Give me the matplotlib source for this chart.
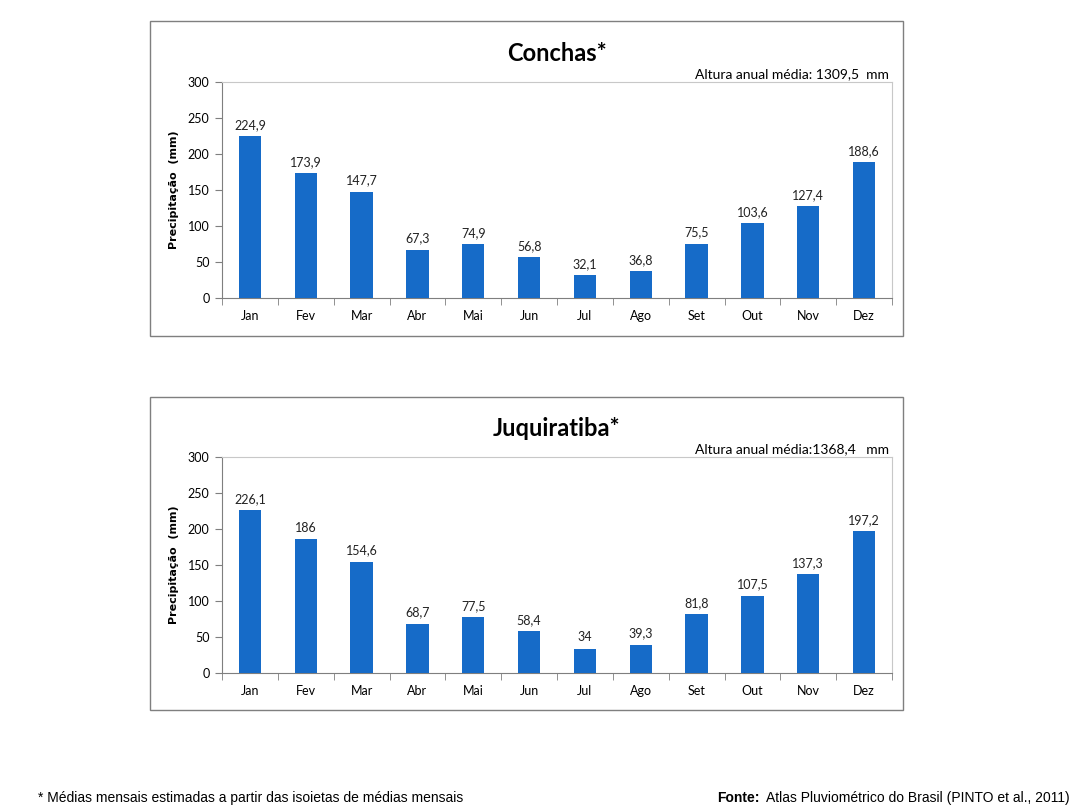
import matplotlib
matplotlib.use("Agg")
import matplotlib.pyplot as plt
from matplotlib.patches import Rectangle

months = ["Jan", "Fev", "Mar", "Abr", "Mai", "Jun", "Jul", "Ago", "Set", "Out", "Nov", "Dez"]
conchas = [224.9, 173.9, 147.7, 67.3, 74.9, 56.8, 32.1, 36.8, 75.5, 103.6, 127.4, 188.6]
juquiratiba = [226.1, 186, 154.6, 68.7, 77.5, 58.4, 34, 39.3, 81.8, 107.5, 137.3, 197.2]
stations = ["Conchas*", "Juquiratiba*"]
annual = ["Altura anual média: 1309,5  mm", "Altura anual média:1368,4   mm"]

BAR = "#166bc8"
FONT = ["Lato", "DejaVu Sans"]

fig = plt.figure(figsize=(10.91, 8.08), dpi=100)


def fmt(v):
    return f"{v:g}".replace(".", ",")


def draw_panel(box, axrect, title, note, values):
    # outer chart frame
    fig.patches.append(Rectangle(box[:2], box[2], box[3], transform=fig.transFigure,
                                 fill=False, edgecolor="#7f7f7f", linewidth=1.0))
    ax = fig.add_axes(axrect)
    x = range(len(months))
    bars = ax.bar(x, values, width=0.4, color=BAR, zorder=3)
    for b, v in zip(bars, values):
        ax.text(b.get_x() + b.get_width() / 2, v + 7, fmt(v), ha="center", va="bottom",
                fontsize=9, family=FONT, color="#222222")
    ax.set_xlim(-0.5, 11.5)
    ax.set_ylim(0, 300)
    ax.set_yticks(range(0, 301, 50))
    ax.set_xticks(list(x))
    ax.set_xticklabels(months, family=FONT, fontsize=9)
    ax.set_xticks([i - 0.5 for i in range(13)], minor=True)
    ax.tick_params(axis="x", which="major", length=0, pad=9)
    ax.tick_params(axis="x", which="minor", length=5, color="#7f7f7f", direction="out")
    ax.tick_params(axis="y", length=5, color="#7f7f7f", pad=4, labelsize=9)
    for lab in ax.get_yticklabels():
        lab.set_family(FONT)
    for s in ("left", "bottom"):
        ax.spines[s].set_color("#7f7f7f")
    for s in ("top", "right"):
        ax.spines[s].set_color("#c8c8c8")
    ax.set_ylabel("Precipitação  (mm)", fontsize=8, fontweight="bold", labelpad=6,
                  family="DejaVu Sans")
    ax.text(0.5, 1.08, title, transform=ax.transAxes, ha="center", va="bottom",
            fontsize=17, fontweight="bold", family=FONT)
    ax.text(0.995, 1.01, note, transform=ax.transAxes, ha="right", va="bottom",
            fontsize=10, family=FONT)


draw_panel((0.1375, 0.5842, 0.690, 0.390), (0.2035, 0.6312, 0.6141, 0.2673),
           stations[0], annual[0], conchas)
draw_panel((0.1375, 0.1213, 0.690, 0.387), (0.2035, 0.1671, 0.6141, 0.2673),
           stations[1], annual[1], juquiratiba)

foot_y = 0.004
fig.text(0.035, foot_y, "* Médias mensais estimadas a partir das isoietas de médias mensais",
         ha="left", va="bottom", fontsize=10, family="Liberation Sans")
fig.text(0.657, foot_y, "Fonte:", ha="left", va="bottom", fontsize=10, fontweight="bold",
         family="Liberation Sans")
fig.text(0.702, foot_y, "Atlas Pluviométrico do Brasil (PINTO et al., 2011)",
         ha="left", va="bottom", fontsize=10, family="Liberation Sans")

fig.savefig("out.png", dpi=100, facecolor="white")
